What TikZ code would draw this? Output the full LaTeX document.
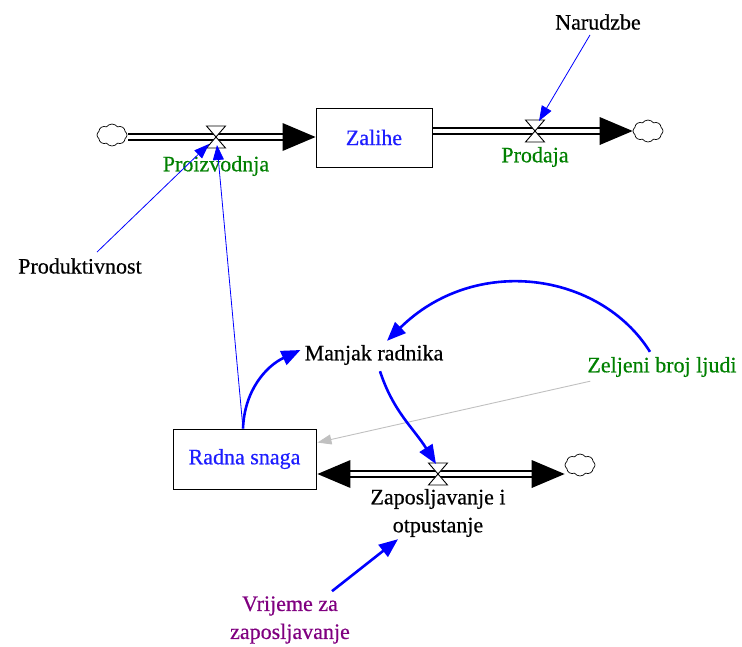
\documentclass[tikz,border=0pt]{standalone}
\usepackage{fontspec}
\setmainfont{Liberation Serif}[FakeBold=0.5]
\usetikzlibrary{arrows.meta,shapes.symbols,calc}
\definecolor{vblue}{RGB}{0,0,255}
\definecolor{tblue}{RGB}{30,30,255}
\definecolor{vgreen}{RGB}{0,128,0}
\definecolor{vpurple}{RGB}{128,0,128}
\definecolor{vgray}{RGB}{192,192,192}
\begin{document}
\begin{tikzpicture}[x=1pt,y=-1pt,
  font=\fontsize{22}{28}\selectfont,
  lbl/.style={inner sep=1pt, align=center},
  stock/.style={draw, line width=0.9pt, minimum width=116pt, minimum height=59pt, text=tblue, inner sep=0pt},
  pipeline/.style={line width=1.3pt},
  cloudy/.style={cloud, draw, cloud puffs=8, cloud puff arc=110, minimum width=30pt, minimum height=22pt, inner sep=0pt, line width=0.7pt},
  info/.style={vblue, line width=0.8pt, -{Triangle[length=15pt,width=11pt]}},
  infothick/.style={vblue, line width=2.6pt, -{Triangle[length=19pt,width=15pt]}},
  greyinfo/.style={vgray, line width=0.9pt, -{Triangle[length=14pt,width=10pt]}},
  valve/.pic={\draw[line width=0.9pt, fill=white] (-9.5,-11) -- (9.5,-11) -- (-9.5,11) -- (9.5,11) -- cycle;}
]
\useasboundingbox (0,0) rectangle (742,646);

% stocks
\node[stock] (zal) at (374,137.5) {Zalihe};
\node[stock, minimum width=143pt, minimum height=60pt] (rs) at (244.5,459) {Radna snaga};

% clouds
\node[cloudy] (c1) at (112,135) {};
\node[cloudy] (c2) at (648,131) {};
\node[cloudy] (c3) at (580,465) {};

% valve centres
\coordinate (v1) at (216,137);
\coordinate (v2) at (535,131);
\coordinate (v3) at (438,474);

% top-left flow (double pipe)
\draw[pipeline] ($(c1.east |- v1)+(1,-3)$) -- ($(zal.west)+(-30,-3.5)$);
\draw[pipeline] ($(c1.east |- v1)+(1,3)$) -- ($(zal.west)+(-30,2.5)$);
\fill ($(zal.west)+(0,-0.5)$) -- ++(-33,-14) -- ++(0,28) -- cycle;
% top-right flow
\draw[pipeline] ($(zal.east)+(0,-9.5)$) -- ($(c2.west)+(-30,-3)$);
\draw[pipeline] ($(zal.east)+(0,-3.5)$) -- ($(c2.west)+(-30,3)$);
\fill (c2.west) -- ++(-33,-14) -- ++(0,28) -- cycle;
% bottom flow
\draw[pipeline] ($(rs.east)+(30,12)$) -- ($(c3.west)+(-30,6)$);
\draw[pipeline] ($(rs.east)+(30,18)$) -- ($(c3.west)+(-30,12)$);
\fill ($(rs.east)+(1,15)$) -- ++(33,-14) -- ++(0,28) -- cycle;
\fill ($(c3.west)+(0,9)$) -- ++(-33,-14) -- ++(0,28) -- cycle;

\pic at (v1) {valve};
\pic at (v2) {valve};
\pic at (v3) {valve};

% labels
\node[lbl, text=vgreen] (pro) at (216,166) {Proizvodnja};
\node[lbl, text=vgreen] (prd) at (535,157) {Prodaja};
\node[lbl] (nar) at (598,22) {Narudzbe};
\node[lbl] (prk) at (80,266) {Produktivnost};
\node[lbl] (man) at (374,355) {Manjak radnika};
\node[lbl, text=vgreen] (zel) at (662,367) {Zeljeni broj ljudi};
\node[lbl] (zap) at (438,513) {Zaposljavanje i\\otpustanje};
\node[lbl, text=vpurple] (vri) at (290,620) {Vrijeme za\\zaposljavanje};

% information links
\draw[info] ($(nar.south)+(-8,4)$) -- ($(v2)+(4,-10)$);
\draw[info] ($(prk.north)+(17,-5)$) -- ($(v1)+(-7,7)$);
\draw[info] ($(rs.north)+(-1.5,0)$) -- ($(v1)+(1,8)$);
\draw[greyinfo] ($(zel.south west)+(4,3)$) -- ($(rs.north east)+(1,14)$);
\draw[infothick] ($(rs.north)+(-1.5,0)$) to[out=88, in=205] ($(man.west)+(-3,-5)$);
\draw[infothick] ($(zel.north)+(-12,-4)$) .. controls (600,272) and (475,254) .. ($(man.north)+(13,-3)$);
\draw[infothick] ($(man.south)+(6,5)$) to[out=-72, in=122] ($(v3)+(-2,-10)$);
\draw[infothick] ($(vri.north)+(42,-4)$) -- ($(zap.south)+(-40,1)$);
\end{tikzpicture}
\end{document}
